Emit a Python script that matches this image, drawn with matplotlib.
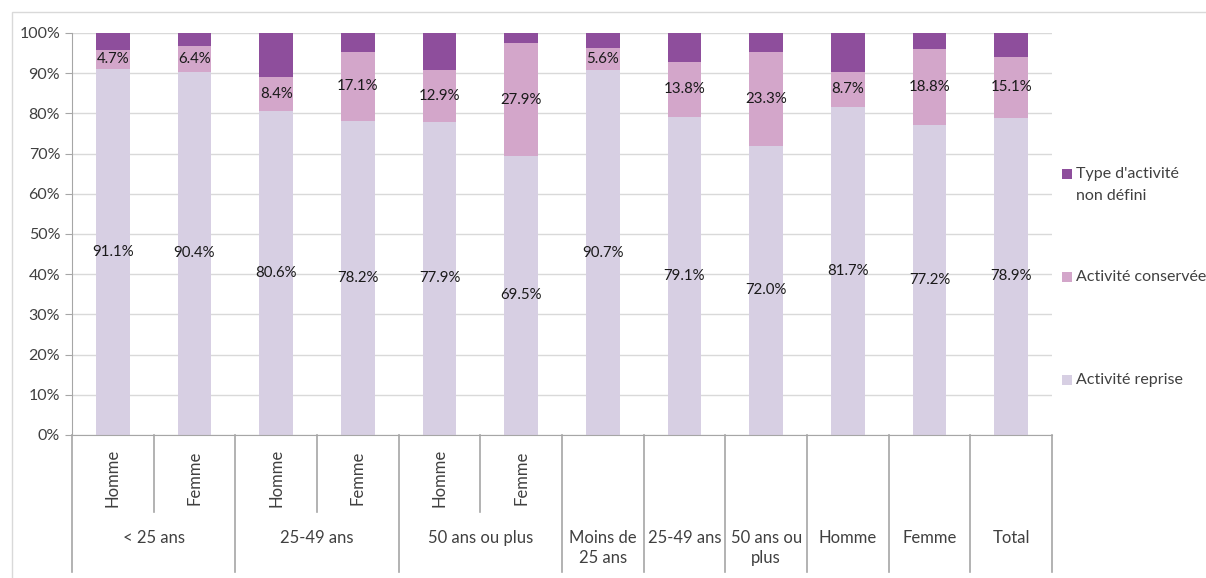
import matplotlib.pyplot as plt
import numpy as np
from matplotlib.patches import Rectangle
from matplotlib import ticker

plt.rcParams['font.family'] = ['Lato', 'DejaVu Sans']

# sous-catégories (ligne du haut) et regroupements (ligne du bas)
sub_labels = ["Homme", "Femme", "Homme", "Femme", "Homme", "Femme",
              "", "", "", "", "", ""]
group_labels = ["< 25 ans", "25-49 ans", "50 ans ou plus", "Moins de\n25 ans",
                "25-49 ans", "50 ans ou\nplus", "Homme", "Femme", "Total"]
group_spans = [(0, 2), (2, 4), (4, 6), (6, 7), (7, 8), (8, 9), (9, 10), (10, 11), (11, 12)]

reprise = [91.1, 90.4, 80.6, 78.2, 77.9, 69.5, 90.7, 79.1, 72.0, 81.7, 77.2, 78.9]
conservee = [4.7, 6.4, 8.4, 17.1, 12.9, 27.9, 5.6, 13.8, 23.3, 8.7, 18.8, 15.1]
non_defini = [4.2, 3.2, 11.0, 4.7, 9.2, 2.6, 3.7, 7.1, 4.7, 9.6, 4.0, 6.0]

series_names = ["Type d'activité\nnon défini", "Activité conservée", "Activité reprise"]

c_reprise = "#d7cfe3"
c_conservee = "#d3a6ca"
c_non_defini = "#8e4e9c"
grey = "#a6a6a6"
txt = "#404040"

W, H = 1206, 578
fig = plt.figure(figsize=(W / 100, H / 100), dpi=100)
ax = fig.add_axes([72 / W, 1 - 435 / H, (1052 - 72) / W, (435 - 33) / H])

x = np.arange(len(reprise))
r = np.array(reprise) / 100
c = np.array(conservee) / 100
n = np.array(non_defini) / 100
w = 0.41

ax.bar(x, r, w, color=c_reprise, zorder=2)
ax.bar(x, c, w, bottom=r, color=c_conservee, zorder=2)
ax.bar(x, n, w, bottom=r + c, color=c_non_defini, zorder=2)

for i in range(len(x)):
    ax.text(x[i], r[i] / 2, f"{reprise[i]:.1f}%", ha="center", va="center",
            fontsize=10.8, color="#1a1a1a", zorder=3)
    ax.text(x[i], r[i] + c[i] / 2, f"{conservee[i]:.1f}%", ha="center", va="center",
            fontsize=10.8, color="#1a1a1a", zorder=3)

ax.set_xlim(-0.5, len(x) - 0.5)
ax.set_ylim(0, 1)
ax.yaxis.set_major_locator(ticker.MultipleLocator(0.1))
ax.yaxis.set_major_formatter(ticker.PercentFormatter(1.0, decimals=0))
ax.tick_params(axis="y", labelsize=11.5, labelcolor=txt, length=5, color=grey)
ax.set_xticks([])
ax.grid(axis="y", color="#d9d9d9", linewidth=1, zorder=0)
ax.set_axisbelow(True)
for s in ["top", "right"]:
    ax.spines[s].set_visible(False)
ax.spines["left"].set_color(grey)
ax.spines["bottom"].set_color(grey)

# tableau des catégories sous l'axe
trans = ax.get_xaxis_transform()
y_mid = -(512 - 435) / 402
y_end = -(572 - 435) / 402
for k in range(len(x) + 1):
    xb = k - 0.5
    bottom = y_mid if k in (1, 3, 5) else y_end
    ax.plot([xb, xb], [0, bottom], color=grey, linewidth=1.2, transform=trans,
            clip_on=False)

for i, lab in enumerate(sub_labels):
    if lab:
        ax.text(x[i], -(478 - 435) / 402, lab, rotation=90, ha="center", va="center",
                fontsize=12, color=txt, transform=trans)

for lab, (a, b) in zip(group_labels, group_spans):
    ax.text((a + b - 1) / 2, -(530 - 435) / 402, lab, ha="center", va="top",
            fontsize=12, color=txt, transform=trans, linespacing=1.3)

# légende à droite, une entrée par série
legend_y = [174, 277, 380]
for name, col, yy in zip(series_names, [c_non_defini, c_conservee, c_reprise], legend_y):
    fig.patches.append(Rectangle((1062 / W, 1 - (yy + 5) / H), 10 / W, 10 / H,
                                 transform=fig.transFigure, facecolor=col,
                                 edgecolor="none"))
    fig.text(1076 / W, 1 - (yy - 7) / H, name, ha="left", va="top", fontsize=11.5,
             color=txt, linespacing=1.7)

# cadre du graphique
fig.patches.append(Rectangle((12 / W, -0.01), 1.2, 1 - 12 / H + 0.01,
                             transform=fig.transFigure, fill=False,
                             edgecolor="#d9d9d9", linewidth=1))

fig.savefig("out.png", dpi=100)
